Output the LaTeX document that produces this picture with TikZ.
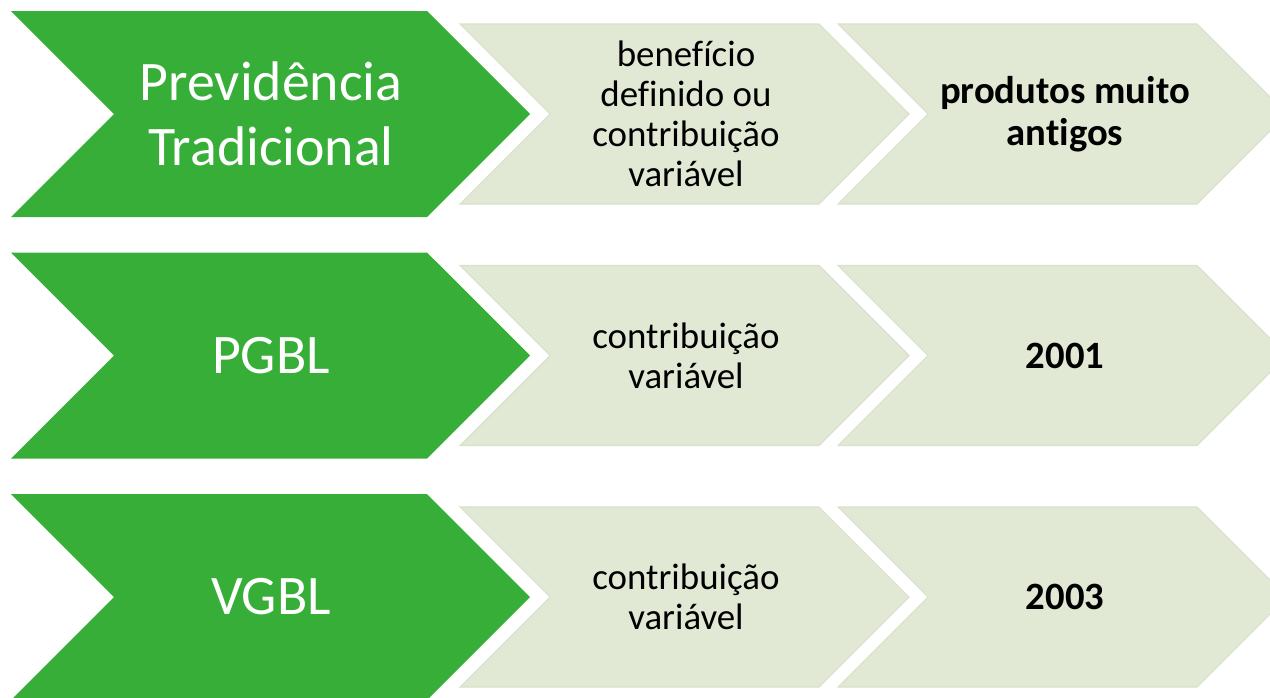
\documentclass[tikz,border=0pt]{standalone}
\usepackage{fontspec}
\setmainfont{Carlito}[Ligatures={NoCommon}]
\definecolor{arrowgreen}{HTML}{37AE37}
\definecolor{arrowlight}{HTML}{E1E8D4}
\definecolor{lightedge}{HTML}{D8E1CA}
\begin{document}
\begin{tikzpicture}
    		\newcommand{\rowspac}{4.83} % distance between the rows
    		\newcommand{\hg}{2.06} % half height of the green arrows
    		\newcommand{\hl}{1.80} % half height of the light arrows
    		\newcommand{\rowy}{-2.28}
    		
    		% set the styles of the arrows and their texts
    		\tikzset{
    			greenarrow/.style={
    				fill=arrowgreen
    				},
    			lightarrow/.style={
    				fill=arrowlight,
    				draw=lightedge,
    				line width=0.6pt,
    				line join=miter
    				},
    			greentext/.style={
    				text=white,
    				align=center,
    				inner sep=0pt,
    				font=\fontsize{31.75}{36.9}\selectfont
    				},
    			darktext/.style={
    				text=black,
    				align=center,
    				inner sep=0pt,
    				font=\fontsize{21}{22.7}\selectfont
    				},
    			boldtext/.style={
    				darktext,
    				font=\fontsize{22}{23.6}\selectfont\bfseries
    				}
    		}
    		
    		\useasboundingbox (0,0) rectangle (25.4,-13.94);
    		\clip (0,0) rectangle (25.4,-13.94);
    		
    		% first row
    		% arrows
    		\fill[greenarrow] (0.22,\rowy+\hg) -- (8.54,\rowy+\hg) -- (10.60,\rowy) -- (8.54,\rowy-\hg) -- (0.22,\rowy-\hg) -- (2.28,\rowy) -- cycle;
    		\filldraw[lightarrow] (9.20,\rowy+\hl) -- (16.38,\rowy+\hl) -- (18.18,\rowy) -- (16.38,\rowy-\hl) -- (9.20,\rowy-\hl) -- (11.00,\rowy) -- cycle;
    		\filldraw[lightarrow] (16.76,\rowy+\hl) -- (23.94,\rowy+\hl) -- (25.74,\rowy) -- (23.94,\rowy-\hl) -- (16.76,\rowy-\hl) -- (18.56,\rowy) -- cycle;
    		% texts
    		\node[greentext] (prev) at (5.42,\rowy) {Previdência\\Tradicional};
    		\node[darktext] (prevtipo) at (13.72,\rowy) {benefício\\definido ou\\contribuição\\variável};
    		\node[boldtext] (prevano) at (21.30,\rowy) {produtos muito\\antigos};
    		
    		% second row
    		\renewcommand{\rowy}{-2.28-\rowspac}
    		% arrows
    		\fill[greenarrow] (0.22,\rowy+\hg) -- (8.54,\rowy+\hg) -- (10.60,\rowy) -- (8.54,\rowy-\hg) -- (0.22,\rowy-\hg) -- (2.28,\rowy) -- cycle;
    		\filldraw[lightarrow] (9.20,\rowy+\hl) -- (16.38,\rowy+\hl) -- (18.18,\rowy) -- (16.38,\rowy-\hl) -- (9.20,\rowy-\hl) -- (11.00,\rowy) -- cycle;
    		\filldraw[lightarrow] (16.76,\rowy+\hl) -- (23.94,\rowy+\hl) -- (25.74,\rowy) -- (23.94,\rowy-\hl) -- (16.76,\rowy-\hl) -- (18.56,\rowy) -- cycle;
    		% texts
    		\node[greentext] (pgbl) at (5.42,\rowy) {PGBL};
    		\node[darktext] (pgbltipo) at (13.72,\rowy) {contribuição\\variável};
    		\node[boldtext] (pgblano) at (21.30,\rowy) {2001};
    		
    		% third row
    		\renewcommand{\rowy}{-2.28-2*\rowspac}
    		% arrows
    		\fill[greenarrow] (0.22,\rowy+\hg) -- (8.54,\rowy+\hg) -- (10.60,\rowy) -- (8.54,\rowy-\hg) -- (0.22,\rowy-\hg) -- (2.28,\rowy) -- cycle;
    		\filldraw[lightarrow] (9.20,\rowy+\hl) -- (16.38,\rowy+\hl) -- (18.18,\rowy) -- (16.38,\rowy-\hl) -- (9.20,\rowy-\hl) -- (11.00,\rowy) -- cycle;
    		\filldraw[lightarrow] (16.76,\rowy+\hl) -- (23.94,\rowy+\hl) -- (25.74,\rowy) -- (23.94,\rowy-\hl) -- (16.76,\rowy-\hl) -- (18.56,\rowy) -- cycle;
    		% texts
    		\node[greentext] (vgbl) at (5.42,\rowy) {VGBL};
    		\node[darktext] (vgbltipo) at (13.72,\rowy) {contribuição\\variável};
    		\node[boldtext] (vgblano) at (21.30,\rowy) {2003};
\end{tikzpicture}
\end{document}
